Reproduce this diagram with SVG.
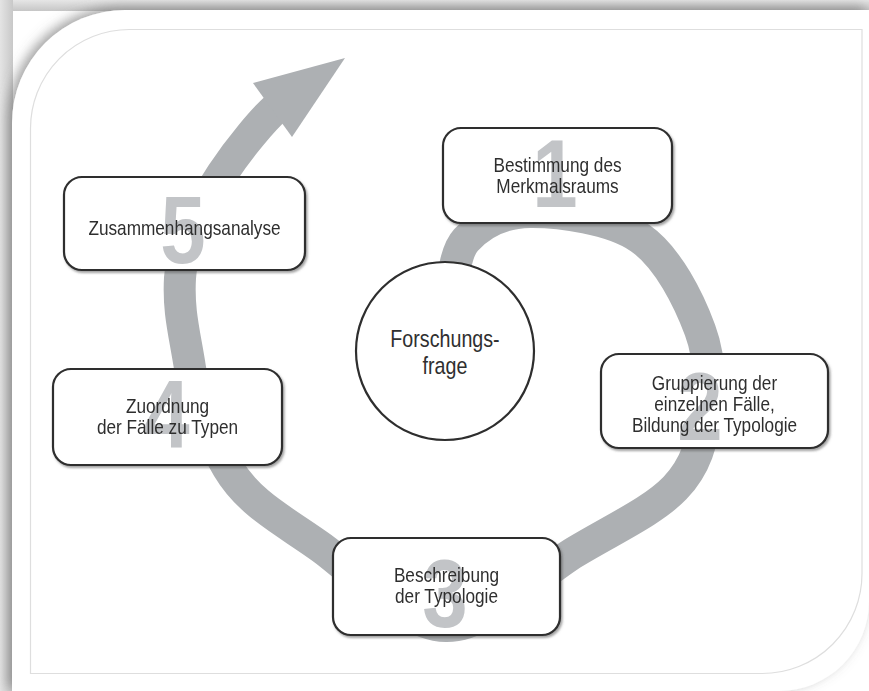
<svg xmlns="http://www.w3.org/2000/svg" width="869" height="691" viewBox="0 0 869 691">
<defs>
<filter id="cardShadow" x="-10%" y="-10%" width="120%" height="120%">
<feDropShadow dx="-4" dy="-3" stdDeviation="6" flood-color="#666" flood-opacity="0.6"/>
</filter>
<filter id="boxShadow" x="-5%" y="-5%" width="115%" height="125%">
<feDropShadow dx="1.5" dy="2" stdDeviation="1.2" flood-color="#555" flood-opacity="0.55"/>
</filter>
<linearGradient id="topStrip" x1="0" y1="0" x2="0" y2="1">
<stop offset="0" stop-color="#e6e6e6"/>
<stop offset="1" stop-color="#c6c6c6"/>
</linearGradient>
<linearGradient id="leftStrip" x1="0" y1="0" x2="1" y2="0">
<stop offset="0" stop-color="#e4e4e4"/>
<stop offset="1" stop-color="#c8c8c8"/>
</linearGradient>
<style>
.box{fill:#fff;stroke:#2e2e2e;stroke-width:2.2}
.lbl{font-family:"Liberation Sans",Arial,sans-serif;font-size:21px;fill:#2f2f2f;text-anchor:middle}
.big{font-size:24px}
.num{font-family:"Liberation Sans",Arial,sans-serif;font-weight:bold;font-size:96px;fill:#c2c4c7;text-anchor:middle}
.ring{fill:none;stroke:#adb0b3;stroke-width:32}
</style>
</defs>
<rect x="0" y="0" width="869" height="691" fill="#fff"/>
<rect x="0" y="0" width="869" height="11" fill="url(#topStrip)"/>
<rect x="0" y="0" width="13" height="691" fill="url(#leftStrip)"/>
<path id="card" d="M12,123 A113,113 0 0 1 125,10 L869,10 L869,601 A90,90 0 0 1 779,691 L12,691 Z" fill="#fff" filter="url(#cardShadow)"/>
<path id="frame" d="M30.5,129.5 A99,99 0 0 1 129.5,29.5 L862,29.5 L862,573.5 A100,100 0 0 1 762,673.5 L30.5,673.5 Z" fill="none" stroke="#dedede" stroke-width="1.2"/>
<g id="connectors">
<path class="ring" d="M450,300 C452.7,290 452.7,254.7 466,240 C479.3,225.3 501,212.3 530,212 C559,211.7 611.7,218.3 640,238 C668.3,257.7 689,300.5 700,330 C711,359.5 710.2,388.7 706,415 C701.8,441.3 696.8,465.2 675,488 C653.2,510.8 613.2,529 575,552 C536.8,575 488.2,626.7 446,626 C403.8,625.3 357.7,574 322,548 C286.3,522 250,505 228,468 C208,434 196,405 190,368 C185,335 178,312 180,278 C182,245 203.7,201.7 222,174 C240.3,146.3 263.5,119.3 276,108"/>
<polygon points="253,83 345,58 292,137" fill="#adb0b3"/>
</g>
<g id="n1" filter="url(#boxShadow)">
<rect class="box" x="443" y="128" width="229" height="95" rx="18"/>
<text class="num" transform="translate(555,207) scale(0.85,1)">1</text>
<text class="lbl" transform="translate(557.5,172) scale(0.82,1)">Bestimmung des</text>
<text class="lbl" transform="translate(557.5,193) scale(0.82,1)">Merkmalsraums</text>
</g>
<g id="n2" filter="url(#boxShadow)">
<rect class="box" x="601" y="354" width="227" height="94" rx="18"/>
<text class="num" transform="translate(700,440) scale(0.85,1)">2</text>
<text class="lbl" transform="translate(714.5,390) scale(0.82,1)">Gruppierung der</text>
<text class="lbl" transform="translate(714.5,411) scale(0.82,1)">einzelnen Fälle,</text>
<text class="lbl" transform="translate(714.5,432) scale(0.82,1)">Bildung der Typologie</text>
</g>
<g id="n3" filter="url(#boxShadow)">
<rect class="box" x="333" y="538" width="227" height="97" rx="18"/>
<text class="num" transform="translate(445,627) scale(0.85,1)">3</text>
<text class="lbl" transform="translate(446.5,582) scale(0.82,1)">Beschreibung</text>
<text class="lbl" transform="translate(446.5,603) scale(0.82,1)">der Typologie</text>
</g>
<g id="n4" filter="url(#boxShadow)">
<rect class="box" x="53" y="369" width="229" height="96" rx="18"/>
<text class="num" transform="translate(167,448) scale(0.85,1)">4</text>
<text class="lbl" transform="translate(167.5,413) scale(0.82,1)">Zuordnung</text>
<text class="lbl" transform="translate(167.5,434) scale(0.82,1)">der Fälle zu Typen</text>
</g>
<g id="n5" filter="url(#boxShadow)">
<rect class="box" x="64" y="177" width="241" height="93" rx="18"/>
<text class="num" transform="translate(183,263) scale(0.85,1)">5</text>
<text class="lbl" transform="translate(184.5,235) scale(0.82,1)">Zusammenhangsanalyse</text>
</g>
<g id="center">
<circle cx="445" cy="351" r="89" fill="#fff" stroke="#2e2e2e" stroke-width="2.2"/>
<text class="lbl big" transform="translate(445,347) scale(0.82,1)">Forschungs-</text>
<text class="lbl big" transform="translate(445,374) scale(0.82,1)">frage</text>
</g>
</svg>
